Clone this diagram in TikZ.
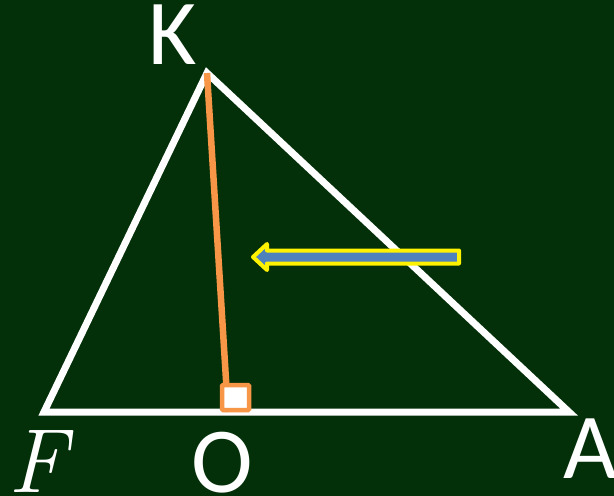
\documentclass[tikz,border=0pt]{standalone}
\usepackage{fontspec}
\usepackage{xcolor}
\usepackage{tikz}
\newfontfamily\labelfont{Carlito}
\definecolor{board}{RGB}{3,48,8}
\definecolor{legorange}{RGB}{247,150,70}
\definecolor{arrowblue}{RGB}{79,129,189}

\begin{document}
\begin{tikzpicture}[
  x=1pt, y=-1pt,
  side/.style={draw=white, line width=7pt},
  height/.style={draw=legorange, line width=6.5pt},
  rightangle/.style={draw=legorange, fill=white, line width=4.5pt, rounded corners=1pt},
  pointer/.style={draw=yellow, fill=arrowblue, line width=4pt, line join=round},
  vlabel/.style={text=white, inner sep=0pt, font=\labelfont\fontsize{93}{93}\selectfont},
]
  % Board
  \fill[board] (0,0) rectangle (614,496);
  \useasboundingbox (0,0) rectangle (614,496);

  % Vertices
  \coordinate (F) at (44,412);
  \coordinate (K) at (207,73);
  \coordinate (A) at (569,412);
  \coordinate (O) at (228,412);

  % Triangle and height
  \draw[side] (F) -- (K) -- (A) -- cycle;
  \draw[height] (K) -- (O);
  \draw[rightangle] (222,385) rectangle (249,410);

  % Arrow
  \draw[pointer] (459,250.5) -- (267,250.5) -- (267,244) -- (253,257)
    -- (267,270) -- (267,263.5) -- (459,263.5) -- cycle;

  % Labels
  \node[vlabel] (labK) at (173,35) {K};
  \node[vlabel] (labO) at (222,463) {O};
  \node[vlabel] (labA) at (590,449) {A};
  \node[text=white, inner sep=0pt, font=\fontsize{91}{91}\selectfont\itshape]
    (labF) at (38,462) {F};
\end{tikzpicture}
\end{document}
